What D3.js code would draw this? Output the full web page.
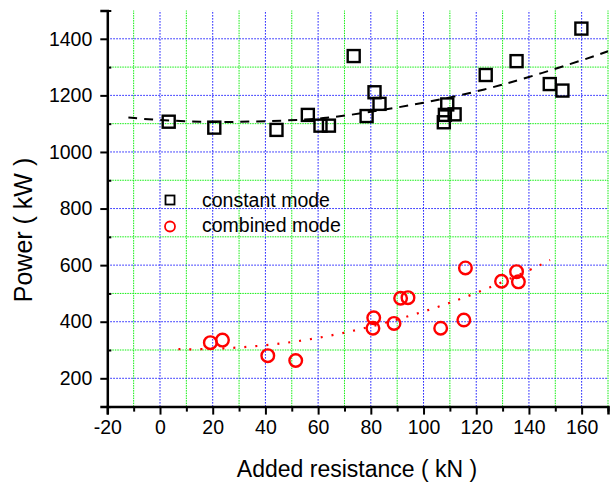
<!DOCTYPE html>
<html><head><meta charset="utf-8">
<script src="https://cdn.jsdelivr.net/npm/d3@7"></script>
<style>body{margin:0;background:#fff;overflow:hidden}</style>
</head><body><svg id="c" width="613" height="486"></svg>
<script>
// Constant mode (squares)
const constX = [3.3, 20.6, 44.2, 56.1, 60.9, 64.1, 73.5, 78.4, 81.4, 83.3, 107.7, 108.1, 109.0, 111.8, 123.6, 135.3, 147.9, 152.7, 159.9];
const constY = [1107, 1086, 1078, 1131, 1093, 1093, 1339, 1127, 1211, 1170, 1105, 1131, 1168, 1133, 1272, 1321, 1240, 1217, 1436];
// Combined mode (circles)
const combX = [19.1, 23.7, 40.9, 51.5, 81.1, 80.8, 88.8, 91.3, 94.1, 106.5, 115.3, 115.9, 129.6, 135.3, 136.0];
const combY = [326, 335, 280, 263, 414, 377, 394, 483, 485, 377, 406, 590, 543, 577, 541];
// Trend lines
const constFitX = [-12, 0, 20, 40, 60, 80, 100, 120, 140, 160, 170];
const constFitY = [1122, 1113, 1106, 1109, 1118, 1142, 1174, 1214, 1265, 1324, 1356];
const combFitX = [7, 20, 40, 60, 80, 100, 120, 140, 148];
const combFitY = [303, 304, 317, 343, 383, 436, 502, 582, 618];
// Ticks
const xMajor = [-20, 0, 20, 40, 60, 80, 100, 120, 140, 160];
const xMinor = [-10, 10, 30, 50, 70, 90, 110, 130, 150, 170];
const yMajor = [200, 400, 600, 800, 1000, 1200, 1400];
const yMinor = [100, 300, 500, 700, 900, 1100, 1300, 1500];
const legendLabels = ["constant mode", "combined mode"];
const xTitle = "Added resistance ( kN )";
const yTitle = "Power ( kW )";

const svg = d3.select("#c");
svg.append("rect").attr("width", 613).attr("height", 486).attr("fill", "#fff");
const x = d3.scaleLinear().domain([-20, 170]).range([107.3, 608]);
const y = d3.scaleLinear().domain([100, 1500]).range([406.6, 10.5]);
const font = "'Liberation Sans', Arial, sans-serif";
const fmt = d => String(d);

// grid
const g = svg.append("g");
g.selectAll(".gvmin").data(xMinor).join("line")
  .attr("x1", d => x(d)).attr("x2", d => x(d)).attr("y1", y(100)).attr("y2", y(1500))
  .attr("stroke", "#11ee11").attr("stroke-width", 1).attr("stroke-dasharray", "1.5,1");
g.selectAll(".ghmin").data(yMinor.filter(v => v > 100 && v < 1500)).join("line")
  .attr("x1", x(-20)).attr("x2", x(170)).attr("y1", d => y(d)).attr("y2", d => y(d))
  .attr("stroke", "#11ee11").attr("stroke-width", 1).attr("stroke-dasharray", "1.5,1");
g.selectAll(".gvmaj").data(xMajor.filter(v => v > -20)).join("line")
  .attr("x1", d => x(d)).attr("x2", d => x(d)).attr("y1", y(100)).attr("y2", y(1500))
  .attr("stroke", "#1111ff").attr("stroke-width", 1).attr("stroke-dasharray", "1.5,1.5");
g.selectAll(".ghmaj").data(yMajor).join("line")
  .attr("x1", x(-20)).attr("x2", x(170)).attr("y1", d => y(d)).attr("y2", d => y(d))
  .attr("stroke", "#1111ff").attr("stroke-width", 1).attr("stroke-dasharray", "1.5,1.5");

// trend lines
const lineC = d3.line().x(d => x(d[0])).y(d => y(d[1])).curve(d3.curveNatural);
svg.append("path").attr("d", lineC(constFitX.map((v, i) => [v, constFitY[i]])))
  .attr("fill", "none").attr("stroke", "#000").attr("stroke-width", 2).attr("stroke-dasharray", "9,7");
svg.append("path").attr("d", lineC(combFitX.map((v, i) => [v, combFitY[i]])))
  .attr("fill", "none").attr("stroke", "#ff0000").attr("stroke-width", 2.2).attr("stroke-dasharray", "2,9");

// markers
const sq = 12;
svg.selectAll(".sq").data(constX.map((v, i) => [v, constY[i]])).join("rect")
  .attr("x", d => x(d[0]) - sq / 2).attr("y", d => y(d[1]) - sq / 2)
  .attr("width", sq).attr("height", sq)
  .attr("fill", "none").attr("stroke", "#000").attr("stroke-width", 2.4);
svg.selectAll(".ci").data(combX.map((v, i) => [v, combY[i]])).join("circle")
  .attr("cx", d => x(d[0])).attr("cy", d => y(d[1])).attr("r", 6.3)
  .attr("fill", "none").attr("stroke", "#ff0000").attr("stroke-width", 2.4);

// axes
const xAxis = svg.append("g").attr("transform", `translate(0,${y(100)})`)
  .call(d3.axisBottom(x).tickValues(xMajor).tickSize(8).tickFormat(fmt));
svg.append("g").attr("transform", `translate(0,${y(100)})`)
  .call(d3.axisBottom(x).tickValues(xMinor).tickSize(5).tickFormat(""))
  .call(a => a.select(".domain").remove())
  .selectAll("line").attr("stroke-width", 2);
xAxis.select(".domain").attr("stroke-width", 2.5);
xAxis.selectAll("line").attr("stroke-width", 2);
xAxis.selectAll("text").attr("font-family", font).attr("font-size", 19.5).attr("fill", "#000").attr("dy", "0.76em").attr("y", 13);

const yAxis = svg.append("g").attr("transform", `translate(${x(-20)},0)`)
  .call(d3.axisLeft(y).tickValues(yMajor).tickSize(7).tickFormat(fmt));
svg.append("g").attr("transform", `translate(${x(-20)},0)`)
  .call(d3.axisRight(y).tickValues(yMinor).tickSize(4).tickFormat(""))
  .call(a => a.select(".domain").remove())
  .selectAll("line").attr("stroke-width", 2);
yAxis.select(".domain").attr("stroke-width", 2.5);
yAxis.selectAll("line").attr("stroke-width", 2);
yAxis.selectAll("text").attr("font-family", font).attr("font-size", 19.5).attr("fill", "#000").attr("x", -15);

// titles
svg.append("text").attr("x", 357).attr("y", 477).attr("text-anchor", "middle")
  .attr("font-family", font).attr("font-size", 23).text(xTitle);
svg.append("text").attr("transform", "translate(32,230) rotate(-90)").attr("text-anchor", "middle")
  .attr("font-family", font).attr("font-size", 25).text(yTitle);

// legend
const lg = svg.append("g");
lg.append("rect").attr("x", 170 - 4.5).attr("y", 200 - 4.5).attr("width", 9).attr("height", 9)
  .attr("fill", "#fff").attr("stroke", "#000").attr("stroke-width", 1.8);
lg.append("circle").attr("cx", 170).attr("cy", 226.5).attr("r", 5)
  .attr("fill", "#fff").attr("stroke", "#ff0000").attr("stroke-width", 1.8);
lg.selectAll(".lt").data(legendLabels).join("text")
  .attr("x", 202).attr("y", (d, i) => 206.5 + i * 25)
  .attr("font-family", font).attr("font-size", 19.5).attr("fill", "#000").text(d => d);
</script></body></html>
